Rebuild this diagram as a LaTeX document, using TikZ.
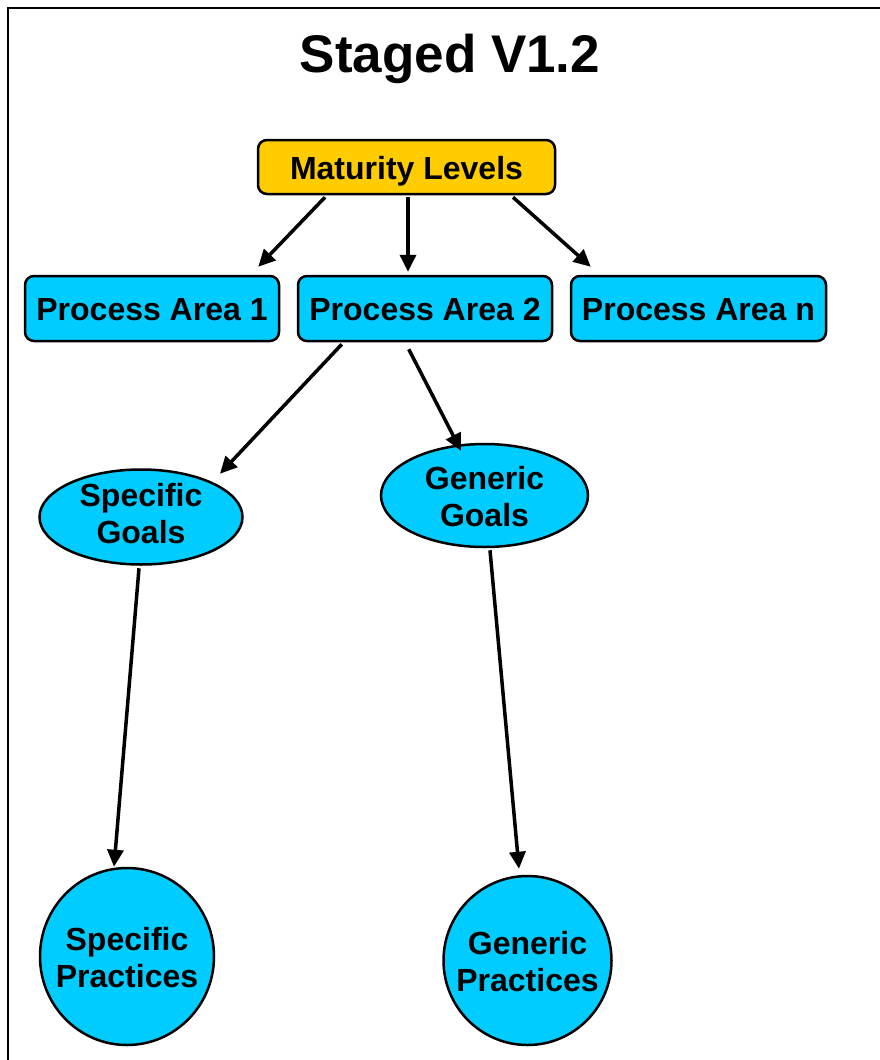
\documentclass[tikz,border=0pt]{standalone}
\usepackage{fontspec}
\setmainfont{Liberation Sans}
\usetikzlibrary{shapes.geometric,arrows.meta,calc}
\definecolor{boxcyan}{HTML}{00CCFF}
\definecolor{boxyellow}{HTML}{FFCC00}
\begin{document}
\begin{tikzpicture}[x=1pt,y=-1pt,
  lbl/.style={font=\fontsize{32}{37}\selectfont\bfseries, align=center, text=black},
  rbox/.style={lbl, draw=black, line width=2.5pt, rounded corners=9pt, fill=boxcyan, inner sep=0pt, text height=23pt, text depth=0pt},
  oval/.style={ellipse, draw=black, line width=2.5pt, fill=boxcyan, inner sep=0pt},
  arr/.style={line width=3.5pt, -{Triangle[length=17pt,width=16pt]}}]
\useasboundingbox (0,0) rectangle (880,1060);
\clip (0,0) rectangle (880,1060);
\fill[white] (0,0) rectangle (880,1060);
\draw[line width=2pt] (8,1075) -- (8,8) -- (895,8);
\node[font=\fontsize{53}{60}\selectfont\bfseries] (title) at (450,59) {Staged V1.2};
\node[rbox, fill=boxyellow, minimum width=297pt, minimum height=54pt] (ml) at (406.5,167) {\raisebox{-1pt}{Maturity Levels}};
\node[rbox, minimum width=254pt, minimum height=65pt] (pa1) at (152,308.5) {Process Area 1};
\node[rbox, minimum width=254pt, minimum height=65pt] (pa2) at (425,308.5) {Process Area 2};
\node[rbox, minimum width=255pt, minimum height=65pt] (pan) at (698.5,308.5) {Process Area n};
\node[oval, minimum width=203pt, minimum height=95pt,
  label={[lbl, yshift=3pt]center:Specific\\Goals}] (sg) at (141,517) {};
\node[oval, minimum width=207pt, minimum height=103pt,
  label={[lbl, yshift=-1pt]center:Generic\\Goals}] (gg) at (484.5,495.5) {};
\node[oval, minimum width=174pt, minimum height=177pt,
  label={[lbl, yshift=-1pt]center:Specific\\Practices}] (sp) at (127,956.5) {};
\node[oval, minimum width=168pt, minimum height=169pt,
  label={[lbl, yshift=-1pt]center:Generic\\Practices}] (gp) at (527.5,960.5) {};
\draw[arr] ($(ml.south)+(-81.5,2)$) -- ($(pa1.north east)+(-22,-8)$);
\draw[arr] ($(ml.south)+(1.5,2)$) -- ($(pa2.north)+(-17,-3)$);
\draw[arr] ($(ml.south)+(106.5,2)$) -- ($(pan.north west)+(21,-8)$);
\draw[arr] ($(pa2.south west)+(45,2)$) -- ($(sg.north)+(79,5.5)$);
\draw[arr] ($(pa2.south west)+(112,7)$) -- ($(gg.north)+(-23.5,8)$);
\draw[arr] ($(sg.south)+(-2,2.5)$) -- ($(sp.north)+(-13,0)$);
\draw[arr] ($(gg.south)+(5.5,2)$) -- ($(gp.north)+(-8.5,-6)$);
\end{tikzpicture}
\end{document}
